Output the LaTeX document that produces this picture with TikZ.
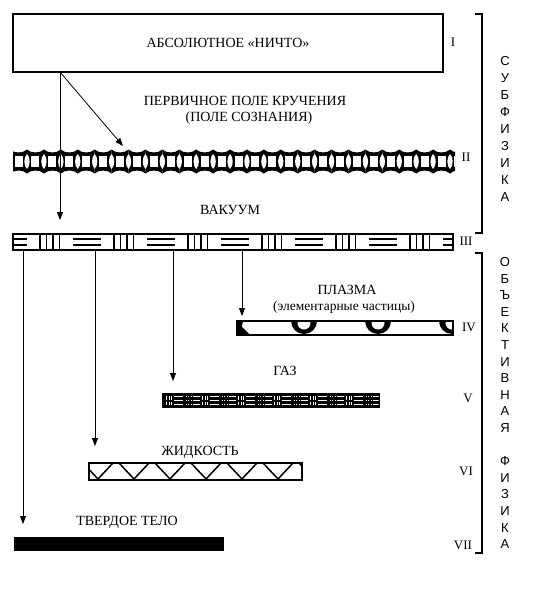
\documentclass[tikz,border=0pt]{standalone}
\usepackage{fontspec}
\setmainfont{Liberation Serif}
\newfontfamily\vsans{Liberation Sans}
\usetikzlibrary{arrows.meta}
\begin{document}
\begin{tikzpicture}[x=1pt,y=-1pt,
  lbl/.style={font=\fontsize{14}{16}\selectfont, inner sep=0},
  small/.style={font=\fontsize{13.5}{15}\selectfont, inner sep=0},
  rom/.style={font=\fontsize{13}{15}\selectfont, inner sep=0},
  vlet/.style={font=\vsans\fontsize{13}{15}\selectfont, inner sep=0},
  arr/.style={line width=0.8pt, -{Triangle[length=8pt,width=6pt]}},
  band/.style={inner sep=0, outer sep=0},
  brk/.style={line width=1.5pt}]
\useasboundingbox (0,0) rectangle (535,591);
\fill[white] (0,0) rectangle (535,591);

% ---------- I: absolute nothing
\node[draw, line width=1.3pt, minimum width=430pt, minimum height=58pt, lbl] (box1) at (228,43) {АБСОЛЮТНОЕ «НИЧТО»};

% ---------- II: torsion field chain
\node[band, minimum width=442pt, minimum height=25pt] (b2) at (234,161.5) {};
\begin{scope}
  \clip (13,140) rectangle (455,185);
  \foreach \k in {-1,...,26} {
    \pgfmathsetmacro\o{27+16.92*\k}
    \pgfmathsetmacro\n{\o+16.92}
    \fill[black] (\o,149.5) .. controls (\o+4,153.5) and (\n-4,153.5) .. (\n,149.5)
      -- (\n,173.5) .. controls (\n-4,169.5) and (\o+4,169.5) .. (\o,173.5) -- cycle;
  }
  \foreach \k in {-1,...,26} {
    \pgfmathsetmacro\o{27+16.92*\k}
    \fill[white] (\o,154) .. controls (\o+3.6,157.5) and (\o+3.6,165.5) .. (\o,169)
      .. controls (\o-3.6,165.5) and (\o-3.6,157.5) .. (\o,154) -- cycle;
    \fill[white] (\o+8.46-4,156.3) rectangle (\o+8.46+4,166.7);
  }
\end{scope}

% ---------- III: vacuum
\node[band, draw, line width=1.1pt, minimum width=440pt, minimum height=16pt] (b3) at (233,242) {};
\begin{scope}
  \clip (13,234) rectangle (453,250);
  \foreach \k in {0,...,5} {
    \pgfmathsetmacro\g{40+74*\k}
    \foreach \j in {0,1,2,3} {
      \draw[line width=1.1pt] (\g+6.5*\j,234) -- (\g+6.5*\j,250);
    }
  }
  \foreach \k in {-1,...,5} {
    \pgfmathsetmacro\c{87+74*\k}
    \draw[line width=1.3pt] (\c-14,239) -- (\c+14,239);
    \draw[line width=1.3pt] (\c-14,245) -- (\c+14,245);
  }
\end{scope}

% ---------- IV: plasma
\node[band, minimum width=216pt, minimum height=14pt] (b4) at (345,328) {};
\begin{scope}
  \clip (237,321) rectangle (453,335);
  \foreach \c in {230,304,378,452} {
    \fill[black] (\c,321) circle (13);
    \fill[white] (\c,323) circle (6.5);
  }
  \fill[black] (237,335) -- (250,335) -- (237,322) -- cycle;
\end{scope}
\draw[line width=2.4pt] (237,321) rectangle (453,335);

% ---------- V: gas
\node[band, fill=black, minimum width=218pt, minimum height=15pt] (b5) at (271,400.5) {};
\begin{scope}
  \clip (163.5,394.5) rectangle (378.5,406.5);
  \foreach \k in {0,...,5} {
    \pgfmathsetmacro\u{165+36*\k}
    \foreach \j in {0,1,2} {
      \fill[white] (\u+1+2.6*\j,396) rectangle (\u+2.2+2.6*\j,399.6);
      \fill[white] (\u+1+2.6*\j,401.6) rectangle (\u+2.2+2.6*\j,405.2);
      \fill[white] (\u+9,396+4*\j) rectangle (\u+18,397.2+4*\j);
      \fill[white] (\u+28,396+4*\j) rectangle (\u+35,397.2+4*\j);
      \foreach \i in {0,1,2} {
        \fill[white] (\u+20.5+2.6*\i,396+4*\j) rectangle (\u+21.8+2.6*\i,397.3+4*\j);
      }
    }
  }
\end{scope}

% ---------- VI: liquid
\node[band, draw, line width=1.5pt, minimum width=213pt, minimum height=17pt] (b6) at (195.5,471.5) {};
\begin{scope}
  \clip (89,463) rectangle (302,480);
  \foreach \b in {62,98,134,170,206,242,278,314} {
    \draw[line width=1.5pt, line join=miter] (\b-15,463) -- (\b,479) -- (\b+15,463);
  }
\end{scope}

% ---------- VII: solid
\node[band, fill=black, minimum width=210pt, minimum height=14pt] (b7) at (119,544) {};

% ---------- arrows
\coordinate (a0) at (60,72);
\coordinate (a1) at (123,146);
\draw[arr] (a0) -- (a1);
\draw[arr, shorten >=14pt] (a0) -- (a0 |- b3.north);
\coordinate (s7) at (23,250);
\coordinate (s6) at (95,250);
\coordinate (s5) at (173,250);
\coordinate (s4) at (242,250);
\draw[arr, shorten >=13pt] (s7) -- (s7 |- b7.north);
\draw[arr, shorten >=17pt] (s6) -- (s6 |- b6.north);
\draw[arr, shorten >=12pt] (s5) -- (s5 |- b5.north);
\draw[arr, shorten >=5pt] (s4) -- (s4 |- b4.north);

% ---------- labels
\node[lbl] (t2a) at (245,101) {ПЕРВИЧНОЕ ПОЛЕ КРУЧЕНИЯ};
\node[lbl] (t2b) at (249,118) {(ПОЛЕ СОЗНАНИЯ)};
\node[lbl] (t3) at (230,210) {ВАКУУМ};
\node[lbl] (t4a) at (347,290) {ПЛАЗМА};
\node[small] (t4b) at (344,307) {(элементарные частицы)};
\node[lbl] (t5) at (285,371) {ГАЗ};
\node[lbl] (t6) at (200,452) {ЖИДКОСТЬ};
\node[lbl] (t7) at (127,522) {ТВЕРДОЕ ТЕЛО};

% ---------- roman numerals
\node[rom] (r1) at (453,42) {I};
\node[rom] (r2) at (466,157) {II};
\node[rom] (r3) at (466,241) {III};
\node[rom] (r4) at (469,327) {IV};
\node[rom] (r5) at (468,398) {V};
\node[rom] (r6) at (466,471) {VI};
\node[rom] (r7) at (463,545) {VII};

% ---------- brackets
\draw[brk] (475,14) -- (482,14) -- (482,233) -- (475,233);
\draw[brk] (475,253) -- (482,253) -- (482,553) -- (475,553);

\foreach \ch [count=\k from 0] in {С,У,Б,Ф,И,З,И,К,А} {
  \node[vlet] (sa\k) at (505,61+17*\k) {\ch};
}
\foreach \ch [count=\k from 0] in {О,Б,Ъ,Е,К,Т,И,В,Н,А,Я} {
  \node[vlet] (ob\k) at (505,262+16.6*\k) {\ch};
}
\foreach \ch [count=\k from 12] in {Ф,И,З,И,К,А} {
  \node[vlet] (fz\k) at (505,262+16.6*\k) {\ch};
}
\end{tikzpicture}
\end{document}
